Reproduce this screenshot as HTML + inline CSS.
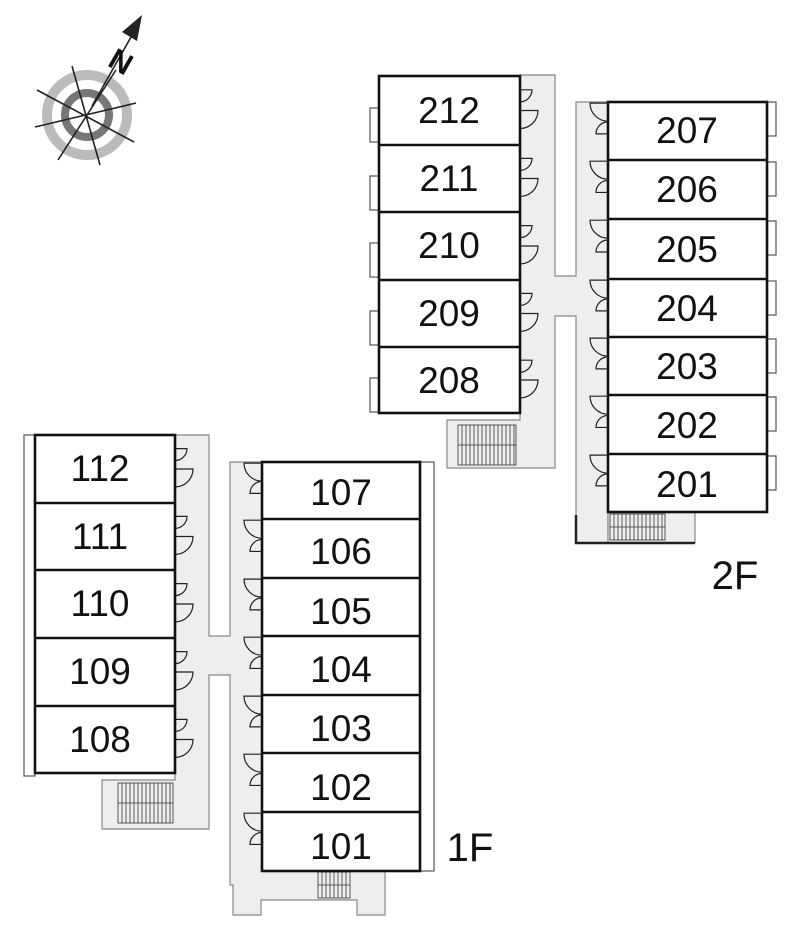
<!DOCTYPE html>
<html><head><meta charset="utf-8"><style>
html,body{margin:0;padding:0;background:#fff;}
svg{display:block;}
text{font-family:"Liberation Sans",sans-serif;fill:#111;}
</style></head><body>
<svg id="s" width="800" height="940" viewBox="0 0 800 940" xmlns="http://www.w3.org/2000/svg">
<g>
<circle cx="87" cy="115" r="40" fill="none" stroke="#bbb" stroke-width="10"/>
<circle cx="87" cy="115" r="22" fill="none" stroke="#777" stroke-width="8"/>
<g stroke="#222" stroke-width="1.6">
<line x1="72" y1="66" x2="100" y2="165"/>
<line x1="116" y1="70" x2="58" y2="160"/>
<line x1="37" y1="90" x2="134" y2="142"/>
<line x1="35" y1="127" x2="136" y2="103"/>
<line x1="92" y1="106" x2="135" y2="30"/>
</g>
<polygon points="142,15 122,32 137,41" fill="#222"/>
<text x="112" y="72" font-size="30" font-weight="bold" transform="rotate(30 122 58)">N</text>
</g>
<g fill="#eee" stroke="#888" stroke-width="1.2">
<path d="M520,75 H555 V276 H576 V102 H608 V543 H576 V316 H555 V468 H447 V420 H520 Z"/>
<path d="M175,435 H209 V636 H230 V462 H262 V871 H385 V915 H357 V900 H261 V915 H233 V885 H230 V675 H209 V829 H102 V780 H175 Z"/>
<rect x="608" y="512" width="87" height="31"/>
</g>
<g fill="#fff" stroke="#555" stroke-width="1.2">
<rect x="24" y="435" width="11" height="341"/>
<rect x="420" y="462" width="14" height="409"/>
<rect x="370" y="108" width="9" height="34"/><rect x="370" y="176" width="9" height="34"/><rect x="370" y="243" width="9" height="34"/><rect x="370" y="311" width="9" height="34"/><rect x="370" y="378" width="9" height="34"/>
<rect x="767" y="102" width="9" height="34"/><rect x="767" y="162" width="9" height="34"/><rect x="767" y="221" width="9" height="34"/><rect x="767" y="281" width="9" height="34"/><rect x="767" y="339" width="9" height="34"/><rect x="767" y="397" width="9" height="34"/><rect x="767" y="456" width="9" height="34"/>
</g>
<path d="M576,515 V543 H695" fill="none" stroke="#222" stroke-width="2.5"/>
<g stroke="#333" stroke-width="0.8" fill="none" id="stairs">
<rect x="458" y="425" width="58" height="40"/>
<rect x="118" y="783" width="55" height="40"/>
<rect x="610" y="514" width="55" height="26"/>
<rect x="318" y="872" width="32" height="26"/>
</g>
<g fill="#fff" stroke="#111" stroke-width="2.6">
<rect x="379" y="76" width="141" height="337"/>
<line x1="379" y1="145" x2="520" y2="145"/><line x1="379" y1="212" x2="520" y2="212"/><line x1="379" y1="280" x2="520" y2="280"/><line x1="379" y1="347" x2="520" y2="347"/>
<rect x="608" y="102" width="159" height="410"/>
<line x1="608" y1="160" x2="767" y2="160"/><line x1="608" y1="219" x2="767" y2="219"/><line x1="608" y1="279" x2="767" y2="279"/><line x1="608" y1="337" x2="767" y2="337"/><line x1="608" y1="395" x2="767" y2="395"/><line x1="608" y1="454" x2="767" y2="454"/>
<rect x="35" y="435" width="140" height="338"/>
<line x1="35" y1="503" x2="175" y2="503"/><line x1="35" y1="570" x2="175" y2="570"/><line x1="35" y1="638" x2="175" y2="638"/><line x1="35" y1="706" x2="175" y2="706"/>
<rect x="262" y="462" width="158" height="409"/>
<line x1="262" y1="519" x2="420" y2="519"/><line x1="262" y1="578" x2="420" y2="578"/><line x1="262" y1="636" x2="420" y2="636"/><line x1="262" y1="695" x2="420" y2="695"/><line x1="262" y1="753" x2="420" y2="753"/><line x1="262" y1="812" x2="420" y2="812"/>
</g>
<g id="doors" fill="none" stroke="#222" stroke-width="1.2"></g>
<g font-size="37" text-anchor="middle">
<text x="449" y="123">212</text><text x="449" y="191">211</text><text x="449" y="258">210</text><text x="449" y="326">209</text><text x="449" y="393">208</text>
<text x="687" y="143">207</text><text x="687" y="202">206</text><text x="687" y="262">205</text><text x="687" y="321">204</text><text x="687" y="379">203</text><text x="687" y="438">202</text><text x="687" y="497">201</text>
<text x="100" y="481">112</text><text x="100" y="549">111</text><text x="100" y="616">110</text><text x="100" y="684">109</text><text x="100" y="752">108</text>
<text x="341" y="505">107</text><text x="341" y="564">106</text><text x="341" y="624">105</text><text x="341" y="682">104</text><text x="341" y="741">103</text><text x="341" y="800">102</text><text x="341" y="859">101</text>
</g>
<text x="735" y="589" font-size="40" text-anchor="middle">2F</text>
<text x="470" y="861" font-size="40" text-anchor="middle">1F</text>
</svg>
<script>
(function(){
var g=document.getElementById('doors'),ns='http://www.w3.org/2000/svg',d='';
function right(x,y0,y1){var h=y1-y0;var a=y0+h*0.2,b=y0+h*0.5;
 d+='M'+x+','+a+' h12 a12,12 0 0 1 -12,12 ';
 d+='M'+x+','+b+' h18 a18,18 0 0 1 -18,18 ';}
function left(x,y0,y1){var h=y1-y0;var a=y0+h*0.02,b=y0+h*0.55;
 d+='M'+x+','+a+' h-18 a18,18 0 0 0 18,18 ';
 d+='M'+x+','+b+' h-12 a12,12 0 0 1 12,-12 ';}
var L2=[76,145,212,280,347,413],R2=[102,160,219,279,337,395,454,512],L1=[435,503,570,638,706,773],R1=[462,519,578,636,695,753,812,871];
for(var i=0;i<5;i++){right(520,L2[i],L2[i+1]);right(175,L1[i],L1[i+1]);}
for(var i=0;i<7;i++){left(608,R2[i],R2[i+1]);left(262,R1[i],R1[i+1]);}
var p=document.createElementNS(ns,'path');p.setAttribute('d',d);g.appendChild(p);
var s=document.getElementById('stairs'),sd='';
[[458,425,58,40],[118,783,55,40],[610,514,55,26],[318,872,32,26]].forEach(function(r){
 for(var x=r[0]+4;x<r[0]+r[2];x+=4)sd+='M'+x+','+r[1]+' v'+r[3]+' ';
 sd+='M'+r[0]+','+(r[1]+r[3]/2)+' h'+r[2]+' ';});
var q=document.createElementNS(ns,'path');q.setAttribute('d',sd);s.appendChild(q);
})();
</script>
</body></html>
